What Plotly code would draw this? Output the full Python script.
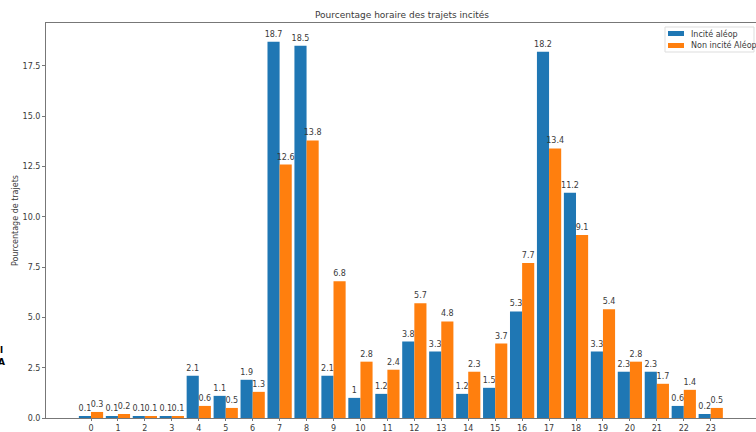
import plotly.graph_objects as go

hours = list(range(24))
incite = [0.1, 0.1, 0.1, 0.1, 2.1, 1.1, 1.9, 18.7, 18.5, 2.1, 1, 1.2,
          3.8, 3.3, 1.2, 1.5, 5.3, 18.2, 11.2, 3.3, 2.3, 2.3, 0.6, 0.2]
non_incite = [0.3, 0.2, 0.1, 0.1, 0.6, 0.5, 1.3, 12.6, 13.8, 6.8, 2.8, 2.4,
              5.7, 4.8, 2.3, 3.7, 7.7, 13.4, 9.1, 5.4, 2.8, 1.7, 1.4, 0.5]
incite_labels = ["0.1", "0.1", "0.1", "0.1", "2.1", "1.1", "1.9", "18.7", "18.5", "2.1", "1", "1.2",
                 "3.8", "3.3", "1.2", "1.5", "5.3", "18.2", "11.2", "3.3", "2.3", "2.3", "0.6", "0.2"]
non_incite_labels = ["0.3", "0.2", "0.1", "0.1", "0.6", "0.5", "1.3", "12.6", "13.8", "6.8", "2.8", "2.4",
                     "5.7", "4.8", "2.3", "3.7", "7.7", "13.4", "9.1", "5.4", "2.8", "1.7", "1.4", "0.5"]
yticks = [0, 2.5, 5, 7.5, 10, 12.5, 15, 17.5]
series_names = ["Incité aléop", "Non incité Aléop"]
colors = ["#1f77b4", "#ff7f0e"]

FONT = "DejaVu Sans"
TXT = "#3a3a3a"
W, H = 756, 432
L, R, T, B = 46, 0, 23, 14
PW, PH = W - L - R, H - T - B


def px_x(p):
    return (p - L) / PW


def px_y(p):
    return (H - B - p) / PH


fig = go.Figure()
for vals, labs, name, col in [(incite, incite_labels, series_names[0], colors[0]),
                              (non_incite, non_incite_labels, series_names[1], colors[1])]:
    fig.add_trace(go.Bar(x=hours, y=vals, name=name, marker_color=col,
                         marker_line_width=0, text=labs, textposition="outside",
                         constraintext="none", cliponaxis=False,
                         textfont=dict(family=FONT, size=8, color=TXT)))

fig.update_layout(
    width=W, height=H,
    margin=dict(l=L, r=R, t=T, b=B, autoexpand=False),
    paper_bgcolor="white", plot_bgcolor="white",
    barmode="group", bargap=0.1, bargroupgap=0,
    font=dict(family=FONT, size=8, color=TXT),
    title=dict(text="Pourcentage horaire des trajets incités", x=402 / W, xanchor="center",
               xref="container", yref="container",
               y=1 - 15 / H, yanchor="middle", font=dict(family=FONT, size=9, color=TXT)),
    showlegend=False,
)
fig.update_xaxes(range=[-1.67, 24.68], tickmode="array", tickvals=hours,
                 ticktext=[str(h) for h in hours], showgrid=False, zeroline=False,
                 showline=True, linecolor="#777777", linewidth=1, mirror=True,
                 ticks="outside", ticklen=2, tickcolor="#777777", automargin=False,
                 tickfont=dict(family=FONT, size=8, color=TXT))
fig.update_yaxes(range=[0, 19.635], tickmode="array", tickvals=yticks,
                 ticktext=[f"{v:.1f}" for v in yticks], showgrid=False, zeroline=False,
                 showline=True, linecolor="#777777", linewidth=1,
                 ticks="outside", ticklen=3, tickcolor="#777777", automargin=False,
                 tickfont=dict(family=FONT, size=8, color=TXT),
                 title=dict(text="Pourcentage de trajets", standoff=2,
                            font=dict(family=FONT, size=8, color=TXT)))

# legend box (drawn manually to match compact matplotlib legend)
fig.add_shape(type="rect", xref="paper", yref="paper",
              x0=px_x(665), x1=px_x(754), y0=px_y(52), y1=px_y(27),
              line=dict(color="#dddddd", width=1), fillcolor="white", layer="above")
for i, (name, col) in enumerate(zip(series_names, colors)):
    cy = 33.5 + i * 12
    fig.add_shape(type="rect", xref="paper", yref="paper",
                  x0=px_x(668), x1=px_x(684), y0=px_y(cy + 2.5), y1=px_y(cy - 2.5),
                  line=dict(width=0), fillcolor=col, layer="above")
    fig.add_annotation(xref="paper", yref="paper", x=px_x(689), y=px_y(cy),
                       xanchor="left", yanchor="middle", showarrow=False, text=name,
                       font=dict(family=FONT, size=8, color=TXT))

fig.add_annotation(xref="paper", yref="paper", x=px_x(-4), y=px_y(356),
                   xanchor="left", yanchor="middle", showarrow=False,
                   text="<b>l<br>A</b>", font=dict(family=FONT, size=9, color="black"))

fig.write_html("out.html", post_script="document.body.style.margin='0';",
               config={"displayModeBar": False})
